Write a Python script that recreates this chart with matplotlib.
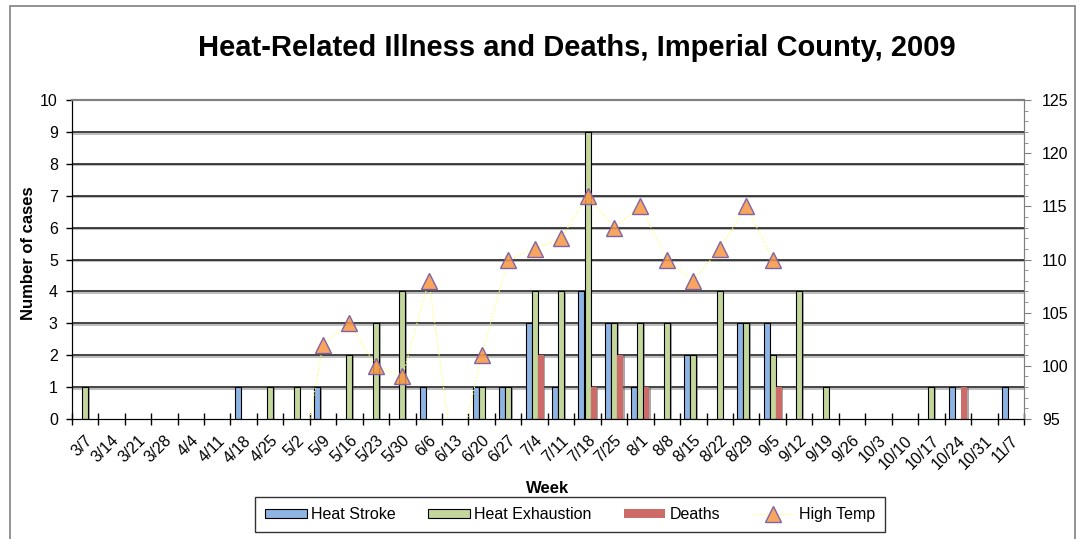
import numpy as np
import matplotlib
matplotlib.use('Agg')
import matplotlib.pyplot as plt
import matplotlib.patheffects as pe
from matplotlib.patches import Rectangle
from matplotlib.lines import Line2D
from matplotlib.ticker import MultipleLocator, FixedLocator

plt.rcParams['font.family'] = ['Liberation Sans', 'DejaVu Sans']

weeks = ['3/7', '3/14', '3/21', '3/28', '4/4', '4/11', '4/18', '4/25', '5/2',
         '5/9', '5/16', '5/23', '5/30', '6/6', '6/13', '6/20', '6/27', '7/4',
         '7/11', '7/18', '7/25', '8/1', '8/8', '8/15', '8/22', '8/29', '9/5',
         '9/12', '9/19', '9/26', '10/3', '10/10', '10/17', '10/24', '10/31', '11/7']
heat_stroke = [0, 0, 0, 0, 0, 0, 1, 0, 0, 1, 0, 0, 0, 1, 0, 1, 1, 3,
               1, 4, 3, 1, 0, 2, 0, 3, 3, 0, 0, 0, 0, 0, 0, 1, 0, 1]
heat_exhaustion = [1, 0, 0, 0, 0, 0, 0, 1, 1, 0, 2, 3, 4, 0, 0, 1, 1, 4,
                   4, 9, 3, 3, 3, 2, 4, 3, 2, 4, 1, 0, 0, 0, 1, 0, 0, 0]
deaths = [0, 0, 0, 0, 0, 0, 0, 0, 0, 0, 0, 0, 0, 0, 0, 0, 0, 2,
          0, 1, 2, 1, 0, 0, 0, 0, 1, 0, 0, 0, 0, 0, 0, 1, 0, 0]
nan = np.nan
high_temp = [nan, nan, nan, nan, nan, nan, nan, nan, 88, 102, 104, 100, 99,
             108, 90, 101, 110, 111, 112, 116, 113, 115, 110, 108, 111, 115,
             110, nan, nan, nan, nan, nan, nan, nan, nan, nan]

W, H = 1079, 539


def main():
    fig = plt.figure(figsize=(W / 100, H / 100), dpi=100)
    ax = fig.add_axes([71.7 / W, 1 - 419 / H, (1024 - 71.7) / W, 319 / H])
    x = np.arange(len(weeks))

    # gridlines with a slight shadow
    for v in range(1, 10):
        ax.axhline(v, color='#111111', lw=1.1, zorder=0,
                   path_effects=[pe.SimpleLineShadow(offset=(0, -1.2), shadow_color='#888888', alpha=0.7),
                                 pe.Normal()])

    bw = 0.225
    shadow = [pe.SimplePatchShadow(offset=(1.2, -0.8), shadow_rgbFace='#555555', alpha=0.5), pe.Normal()]
    series = [(heat_stroke, -0.23, '#8DB4E2', 'black', 'Heat Stroke'),
              (heat_exhaustion, 0.0, '#C3D69B', 'black', 'Heat Exhaustion'),
              (deaths, 0.23, '#CD6B68', 'none', 'Deaths')]
    for vals, off, col, ec, lab in series:
        vals = np.array(vals, dtype=float)
        m = vals > 0
        ax.bar(x[m] + off, vals[m], width=bw, color=col, edgecolor=ec, lw=0.8,
               zorder=2, path_effects=shadow)

    ax.set_xlim(-0.5, len(weeks) - 0.5)
    ax.set_ylim(0, 10)
    ax.yaxis.set_major_locator(MultipleLocator(1))
    ax.tick_params(axis='y', direction='out', length=4, width=1, pad=6, labelsize=11.5)
    ax.set_xticks(x)
    ax.set_xticklabels(weeks, rotation=45, ha='right', va='top', rotation_mode='anchor', fontsize=11.5)
    ax.xaxis.set_minor_locator(FixedLocator(np.arange(-0.5, len(weeks), 1)))
    ax.tick_params(axis='x', which='major', length=0, pad=10)
    ax.tick_params(axis='x', which='minor', direction='inout', length=8, width=1)
    ax.spines['top'].set_color('#808080')
    ax.spines['right'].set_color('#808080')
    ax.spines['top'].set_linewidth(1.5)

    ax.set_ylabel('Number of cases', fontsize=12, fontweight='bold')
    ax.yaxis.set_label_coords(-0.037, 0.52)
    ax.set_xlabel('Week', fontsize=12, fontweight='bold')
    ax.xaxis.set_label_coords(0.5, -0.193)

    # high temp on the right axis
    ax2 = ax.twinx()
    ax2.plot(x, high_temp, color='#FFFF66', lw=0.9, ls=':', marker='^', ms=11,
             mfc=(0.97, 0.59, 0.27, 0.85), mec='#8064A2', mew=1.0, zorder=5)
    ax2.set_ylim(95, 125)
    ax2.yaxis.set_major_locator(MultipleLocator(5))
    ax2.yaxis.set_minor_locator(MultipleLocator(1))
    ax2.tick_params(axis='y', which='major', direction='out', length=5, color='#808080', pad=8, labelsize=11.5)
    ax2.tick_params(axis='y', which='minor', direction='out', length=3, color='#808080')
    for s in ('top', 'right'):
        ax2.spines[s].set_color('#808080')
    ax2.spines['top'].set_linewidth(1.5)

    fig.text(577 / W, 1 - 48 / H, 'Heat-Related Illness and Deaths, Imperial County, 2009',
             ha='center', va='center', fontsize=21, fontweight='bold')

    handles = [Rectangle((0, 0), 1, 1, fc='#8DB4E2', ec='black', lw=0.8),
               Rectangle((0, 0), 1, 1, fc='#C3D69B', ec='black', lw=0.8),
               Rectangle((0, 0), 1, 1, fc='#CD6B68', ec='none'),
               Line2D([], [], color='#FFFF66', lw=0.9, ls=':', marker='^', ms=11,
                      mfc=(0.97, 0.59, 0.27, 0.85), mec='#8064A2')]
    leg = fig.legend(handles, ['Heat Stroke', 'Heat Exhaustion', 'Deaths', 'High Temp'],
                     loc='center', bbox_to_anchor=(570 / W, 1 - 514.5 / H), ncol=4,
                     fontsize=11.5, frameon=True, fancybox=False, edgecolor='black',
                     handlelength=2.6, handleheight=0.55, handletextpad=0.3,
                     columnspacing=2.0, borderpad=0.6)
    leg.get_frame().set_linewidth(1.0)

    fig.add_artist(Rectangle((10 / W, -0.1), (1075 - 10) / W, 1.1 - 6 / H,
                             transform=fig.transFigure, fill=False, ec='#808080', lw=1.2))

    plt.savefig('out.png', dpi=100)


if __name__ == '__main__':
    main()
